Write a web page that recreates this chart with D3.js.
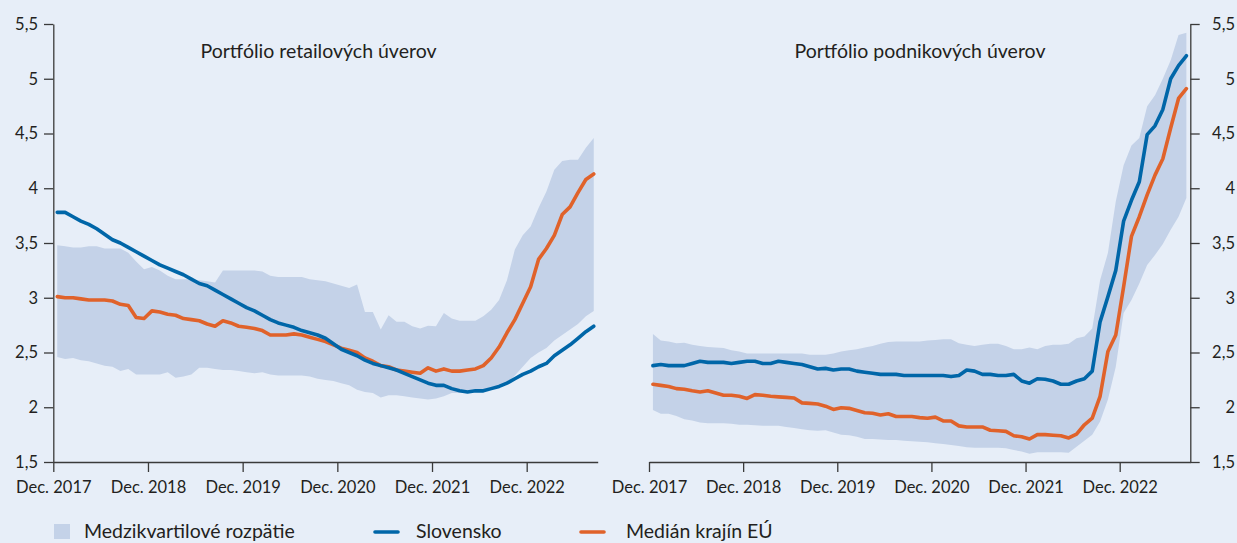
<!DOCTYPE html>
<html>
<head>
<meta charset="utf-8">
<script src="https://cdn.jsdelivr.net/npm/d3@7"></script>
<style>
  html, body { margin: 0; padding: 0; background: #e7eef8; }
  svg { display: block; }
  text { font-family: Lato, "Open Sans", sans-serif; fill: #231f20; }
</style>
</head>
<body>
<svg id="chart" width="1237" height="543"></svg>
<script>
// ---- Data (monthly, Dec. 2017 – Aug. 2023) ----
const months = d3.timeMonth.range(new Date(2017, 11, 1), new Date(2023, 8, 1));
const tickLabels = ["Dec. 2017", "Dec. 2018", "Dec. 2019", "Dec. 2020", "Dec. 2021", "Dec. 2022"];
const yTicks = [1.5, 2, 2.5, 3, 3.5, 4, 4.5, 5, 5.5];

const titles = ["Portfólio retailových úverov", "Portfólio podnikových úverov"];
const legendLabels = ["Medzikvartilové rozpätie", "Slovensko", "Medián krajín EÚ"];

// Retail portfolio
const retailSK = [3.78,3.78,3.74,3.70,3.67,3.63,3.58,3.53,3.50,3.46,3.42,3.38,3.34,3.30,3.27,3.24,3.21,3.17,3.13,3.11,3.07,3.03,2.99,2.95,2.91,2.88,2.84,2.80,2.77,2.75,2.73,2.70,2.68,2.66,2.63,2.58,2.53,2.50,2.47,2.43,2.40,2.38,2.36,2.34,2.31,2.28,2.25,2.22,2.20,2.20,2.17,2.15,2.14,2.15,2.15,2.17,2.19,2.22,2.26,2.30,2.33,2.37,2.40,2.47,2.52,2.57,2.63,2.69,2.74];
const retailEU = [3.01,3.00,3.00,2.99,2.98,2.98,2.98,2.97,2.94,2.93,2.82,2.81,2.88,2.87,2.85,2.84,2.81,2.80,2.79,2.76,2.74,2.79,2.77,2.74,2.73,2.72,2.70,2.66,2.66,2.66,2.67,2.66,2.64,2.62,2.60,2.57,2.54,2.52,2.50,2.45,2.42,2.38,2.37,2.34,2.33,2.32,2.31,2.36,2.33,2.35,2.33,2.33,2.34,2.35,2.38,2.45,2.55,2.68,2.80,2.95,3.10,3.35,3.45,3.57,3.76,3.83,3.96,4.08,4.13];
const retailQ3 = [3.48,3.47,3.46,3.46,3.47,3.47,3.45,3.45,3.45,3.41,3.33,3.26,3.28,3.25,3.20,3.17,3.17,3.17,3.16,3.15,3.14,3.25,3.25,3.25,3.25,3.25,3.24,3.20,3.19,3.19,3.19,3.19,3.17,3.16,3.15,3.13,3.11,3.09,3.12,2.87,2.87,2.71,2.84,2.78,2.78,2.74,2.72,2.745,2.74,2.86,2.81,2.79,2.79,2.79,2.83,2.89,2.98,3.16,3.44,3.57,3.65,3.82,3.97,4.17,4.25,4.26,4.26,4.37,4.46];
const retailQ1 = [2.46,2.44,2.45,2.43,2.42,2.40,2.38,2.37,2.33,2.35,2.30,2.30,2.30,2.30,2.32,2.27,2.28,2.30,2.36,2.36,2.35,2.34,2.34,2.33,2.32,2.31,2.32,2.30,2.29,2.29,2.29,2.29,2.28,2.26,2.25,2.24,2.22,2.20,2.16,2.14,2.13,2.09,2.11,2.11,2.10,2.09,2.08,2.07,2.08,2.10,2.13,2.13,2.13,2.14,2.16,2.18,2.20,2.22,2.29,2.37,2.45,2.50,2.54,2.61,2.66,2.71,2.76,2.83,2.88];

// Corporate portfolio
const corpSK = [2.38,2.39,2.38,2.38,2.38,2.40,2.42,2.41,2.41,2.41,2.40,2.41,2.42,2.42,2.40,2.40,2.42,2.41,2.40,2.39,2.37,2.35,2.355,2.34,2.35,2.35,2.33,2.32,2.31,2.30,2.30,2.30,2.29,2.29,2.29,2.29,2.29,2.29,2.28,2.29,2.34,2.33,2.30,2.30,2.29,2.29,2.30,2.24,2.22,2.26,2.255,2.24,2.21,2.21,2.24,2.26,2.33,2.78,3.01,3.25,3.70,3.89,4.06,4.49,4.57,4.72,5.00,5.12,5.21];
const corpEU = [2.21,2.20,2.19,2.17,2.165,2.15,2.14,2.15,2.13,2.11,2.11,2.10,2.08,2.115,2.11,2.10,2.095,2.09,2.085,2.04,2.035,2.03,2.01,1.98,1.995,1.99,1.97,1.95,1.945,1.93,1.94,1.915,1.915,1.915,1.905,1.90,1.91,1.875,1.875,1.83,1.82,1.82,1.82,1.79,1.785,1.78,1.74,1.73,1.71,1.75,1.75,1.745,1.74,1.72,1.755,1.84,1.90,2.10,2.51,2.66,3.10,3.56,3.74,3.94,4.12,4.27,4.55,4.82,4.91];
const corpQ3 = [2.67,2.61,2.60,2.585,2.59,2.57,2.56,2.55,2.545,2.54,2.52,2.51,2.49,2.49,2.49,2.49,2.49,2.49,2.49,2.49,2.48,2.48,2.48,2.49,2.51,2.52,2.53,2.545,2.56,2.58,2.595,2.60,2.60,2.60,2.60,2.61,2.615,2.62,2.62,2.585,2.57,2.56,2.57,2.58,2.58,2.56,2.53,2.53,2.545,2.53,2.56,2.57,2.57,2.58,2.63,2.645,2.72,3.16,3.41,3.88,4.21,4.39,4.46,4.75,4.85,5.00,5.17,5.40,5.42];
const corpQ1 = [1.975,1.94,1.94,1.92,1.89,1.88,1.86,1.855,1.855,1.855,1.85,1.84,1.84,1.835,1.83,1.83,1.83,1.82,1.81,1.80,1.79,1.785,1.79,1.77,1.75,1.745,1.73,1.71,1.71,1.705,1.70,1.70,1.695,1.69,1.685,1.68,1.671,1.665,1.655,1.645,1.635,1.63,1.63,1.63,1.63,1.625,1.61,1.595,1.575,1.59,1.59,1.59,1.59,1.585,1.64,1.695,1.75,1.87,2.07,2.37,2.86,2.98,3.13,3.30,3.39,3.49,3.62,3.74,3.91];

// ---- Styles ----
const colBand = "#c4d2e8";
const colSK = "#0066a8";
const colEU = "#e0622a";
const colAxis = "#3a3a3a";
const tickFont = 16.5;
const labelFont = 19.5;

const svg = d3.select("#chart");

const yTop = 24, yBottom = 462;
const y = d3.scaleLinear().domain([1.5, 5.5]).range([yBottom, yTop]);
const fmt = d => String(d).replace(".", ",");

const panels = [
  { x0: 53.3, x1: 597.7, sk: retailSK, eu: retailEU, q1: retailQ1, q3: retailQ3, title: titles[0], titleX: 318.5, side: "left" },
  { x0: 649, x1: 1190.3, sk: corpSK, eu: corpEU, q1: corpQ1, q3: corpQ3, title: titles[1], titleX: 920, side: "right" }
];

panels.forEach(p => {
  const n = months.length;
  const x = d3.scaleLinear().domain([0, n]).range([p.x0, p.x1]);
  const px = (d, i) => x(i + 0.5);
  const g = svg.append("g");

  // band
  const area = d3.area()
    .x((d, i) => px(d, i))
    .y0((d, i) => y(p.q1[i]))
    .y1((d, i) => y(p.q3[i]));
  g.append("path").datum(months).attr("d", area).attr("fill", colBand);

  // lines
  const line = arr => d3.line().x((d, i) => px(d, i)).y((d, i) => y(arr[i]));
  g.append("path").datum(months).attr("d", line(p.eu))
    .attr("fill", "none").attr("stroke", colEU).attr("stroke-width", 3.6)
    .attr("stroke-linejoin", "round").attr("stroke-linecap", "round");
  g.append("path").datum(months).attr("d", line(p.sk))
    .attr("fill", "none").attr("stroke", colSK).attr("stroke-width", 3.6)
    .attr("stroke-linejoin", "round").attr("stroke-linecap", "round");

  // x axis
  const xAxis = d3.axisBottom(x)
    .tickValues(tickLabels.map((t, k) => k * 12))
    .tickFormat((d, k) => tickLabels[k])
    .tickSize(10).tickSizeOuter(0).tickPadding(9);
  const gx = g.append("g").attr("transform", `translate(0,${yBottom})`).call(xAxis);
  gx.select(".domain").attr("stroke", colAxis).attr("stroke-width", 1.3);
  gx.selectAll(".tick line").attr("stroke", colAxis).attr("stroke-width", 1.3);
  gx.selectAll(".tick text").attr("font-size", tickFont).attr("font-family", "Lato, sans-serif").attr("fill", "#231f20");

  // y axis
  let gy;
  if (p.side === "left") {
    const yAxis = d3.axisLeft(y).tickValues(yTicks).tickFormat(fmt).tickSize(9.3).tickSizeOuter(0).tickPadding(6);
    gy = g.append("g").attr("transform", `translate(${p.x0},0)`).call(yAxis);
  } else {
    const yAxis = d3.axisRight(y).tickValues(yTicks).tickFormat(fmt).tickSize(9.4).tickSizeOuter(0).tickPadding(6);
    gy = g.append("g").attr("transform", `translate(${p.x1},0)`).call(yAxis);
    gy.selectAll(".tick text").attr("text-anchor", "end").attr("x", 1235 - p.x1);
  }
  gy.select(".domain").attr("stroke", colAxis).attr("stroke-width", 1.3);
  gy.selectAll(".tick line").attr("stroke", colAxis).attr("stroke-width", 1.3);
  gy.selectAll(".tick text").attr("font-size", tickFont).attr("font-family", "Lato, sans-serif").attr("fill", "#231f20");

  // title
  g.append("text").attr("x", p.titleX).attr("y", 58).attr("text-anchor", "middle")
    .attr("font-size", labelFont).text(p.title);
});

// ---- Legend ----
const lg = svg.append("g");
lg.append("rect").attr("x", 54).attr("y", 524).attr("width", 16).attr("height", 15).attr("fill", colBand);
lg.append("text").attr("x", 84).attr("y", 538).attr("font-size", labelFont).text(legendLabels[0]);
lg.append("line").attr("x1", 375).attr("x2", 398).attr("y1", 532).attr("y2", 532)
  .attr("stroke", colSK).attr("stroke-width", 3.6).attr("stroke-linecap", "round");
lg.append("text").attr("x", 416).attr("y", 538).attr("font-size", labelFont).text(legendLabels[1]);
lg.append("line").attr("x1", 581).attr("x2", 604).attr("y1", 532).attr("y2", 532)
  .attr("stroke", colEU).attr("stroke-width", 3.6).attr("stroke-linecap", "round");
lg.append("text").attr("x", 626).attr("y", 538).attr("font-size", labelFont).text(legendLabels[2]);
</script>
</body>
</html>
